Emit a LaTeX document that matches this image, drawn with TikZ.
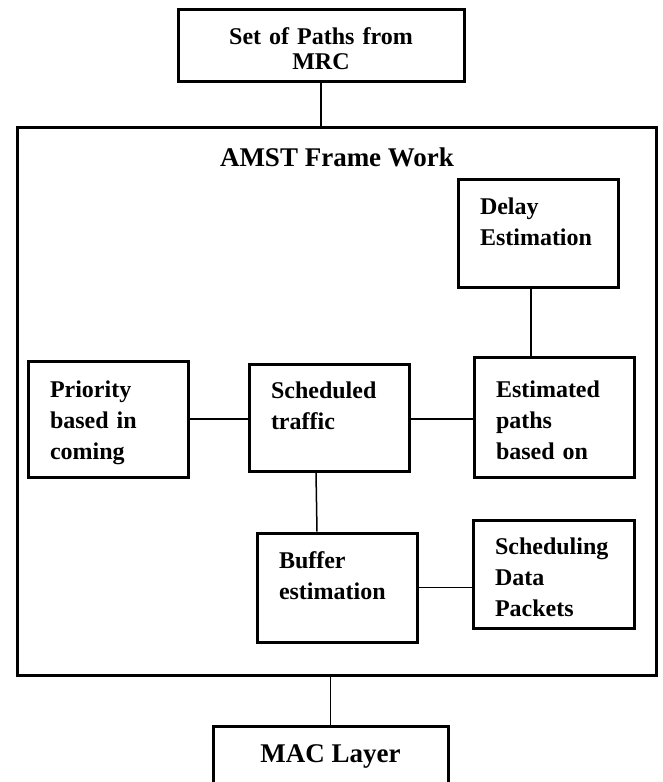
\documentclass[tikz,border=0pt]{standalone}
\usepackage{fontspec}
\setmainfont{Liberation Serif}
\begin{document}
\begin{tikzpicture}[x=1pt,y=-1pt,
  box/.style={draw, line width=3pt, rectangle, inner xsep=22pt, inner ysep=0pt, align=left,
    font=\fontsize{24}{31}\selectfont\bfseries, execute at begin node={\rule{0pt}{24pt}}},
  wbox/.style={box, text width=116pt},
  link/.style={line width=1.5pt}]
\clip (0,0) rectangle (662,782);
\useasboundingbox (0,0) rectangle (662,782);
% outer frame
\node[draw, line width=3pt, minimum width=639pt, minimum height=548pt, inner sep=0pt] (frame) at (336.5,401) {};
\node[font=\fontsize{27}{30}\selectfont\bfseries] (title) at (337,157) {AMST Frame Work};
% top box
\node[box, minimum width=286pt, minimum height=72pt, text width=242pt, align=center,
  font=\fontsize{24}{25}\selectfont\bfseries] (top) at (321,45) {Set of Paths from\\MRC};
% inner boxes
\node[wbox, minimum height=108pt] (delay) at (538,233) {Delay\\Estimation\\\mbox{}};
\node[wbox, minimum height=116pt] (pri) at (108,419) {Priority\\based in\\coming};
\node[wbox, minimum height=107pt] (sched) at (329,417.5) {Scheduled\\traffic\\\mbox{}};
\node[wbox, minimum height=120pt] (est) at (554,417) {Estimated\\paths\\based on};
\node[wbox, minimum height=109pt] (buf) at (337,587.5) {Buffer\\estimation\\\mbox{}};
\node[wbox, minimum height=108pt, text width=117pt] (sd) at (553.5,574) {Scheduling\\Data\\Packets};
% MAC layer box
\node[box, anchor=north, align=center, minimum width=235pt, inner xsep=10pt,
  font=\fontsize{27}{30}\selectfont\bfseries, text height=19pt, text depth=60pt, inner ysep=17pt]
  (mac) at (330.5,725) {MAC Layer};
% connectors
\draw[link] (top.south) -- (top.south |- frame.north);
\draw[link] (mac.north |- frame.south) -- (mac.north);
\draw[link] ([xshift=-7pt]delay.south) -- ([xshift=-7pt]delay.south |- est.north);
\draw[link] (pri.east) -- (pri.east -| sched.west);
\draw[link] (pri.east -| sched.east) -- (pri.east -| est.west);
\draw[link] ([xshift=-13pt]sched.south) -- ([xshift=-20pt]buf.north);
\draw[link] (buf.east) -- (buf.east -| sd.west);
\end{tikzpicture}
\end{document}
